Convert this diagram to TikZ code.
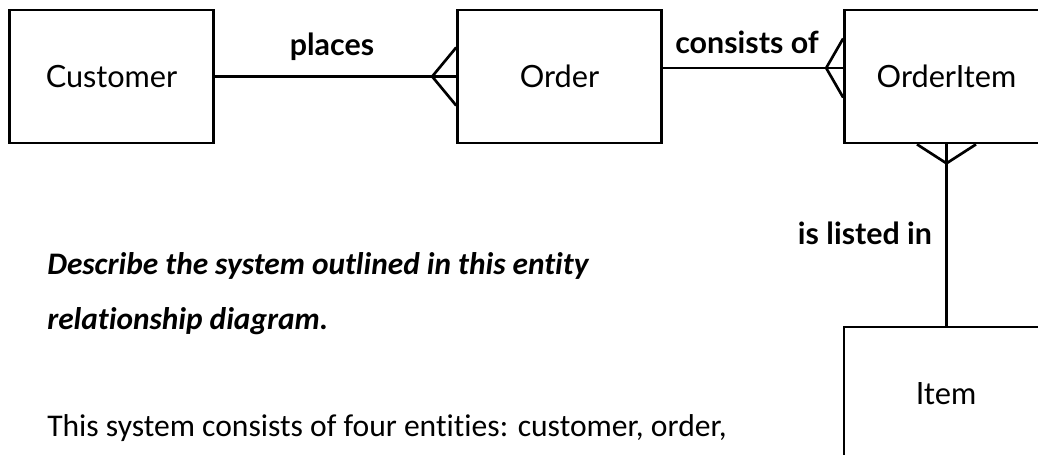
\documentclass[tikz,border=0pt]{standalone}
\usepackage{fontspec}
\setmainfont[Ligatures=NoCommon]{Carlito}
\newfontfamily\erfont{Lato}
\usetikzlibrary{calc,positioning}

\tikzset{
  entity/.style={draw, line width=2pt, minimum width=153pt, minimum height=99.75pt,
    inner sep=0pt, font=\erfont\fontsize{23}{27}\selectfont},
  rel/.style={inner sep=0pt, font=\erfont\bfseries\fontsize{22.8}{26}\selectfont},
  link/.style={line width=2pt},
  prose/.style={inner sep=0pt, anchor=base west, font=\fontsize{23.7}{28}\selectfont}
}

\begin{document}
\begin{tikzpicture}[x=0.75pt, y=-0.75pt]
        \useasboundingbox (0,0) rectangle (1038,454);
        \clip (0,0) rectangle (1038,454);
        % Entities
        \node[entity] (cust) at (111.5,76.5) {Customer};
        \node[entity] (order) at (559.5,76.5) {Order};
        \node[entity] (oitem) at (946.5,76.5) {OrderItem};
        \node[entity] (item) at (946,393.5) {Item};
        % Customer places Order
        \draw[link] (cust.east) -- (order.west);
        \draw[link] ($(order.west)+(0,-29)$) -- ($(order.west)+(-24,0)$) -- ($(order.west)+(0,29)$);
        \node[rel] (places) at (332,47) {places};
        % Order consists of OrderItem
        \coordinate (cof) at ($(oitem.west)+(0,-8.5)$);
        \draw[link] (order.east |- cof) -- (cof);
        \draw[link] ($(cof)+(0,-29.5)$) -- ($(cof)+(-17,0)$) -- ($(cof)+(0,29.5)$);
        \node[rel] (consists) at (747,42) {consists of};
        % OrderItem is listed in Item
        \draw[link] (oitem.south) -- (oitem.south |- item.north);
        \draw[link] ($(oitem.south)+(-29.5,0)$) -- ($(oitem.south)+(0,19)$) -- ($(oitem.south)+(29.5,0)$);
        \node[rel] (listed) at (865,233) {is listed in};
        % Question and answer
        \node[prose, font=\bfseries\itshape\fontsize{23.5}{28}\selectfont] (q1) at (47,274) {Describe the system outlined in this entity};
        \node[prose, font=\bfseries\itshape\fontsize{23.5}{28}\selectfont] (q2) at (47,329) {relationship diagram.};
        \node[prose] (ans) at (47,436) {This system consists of four entities: customer, order,};
    \end{tikzpicture}
\end{document}
